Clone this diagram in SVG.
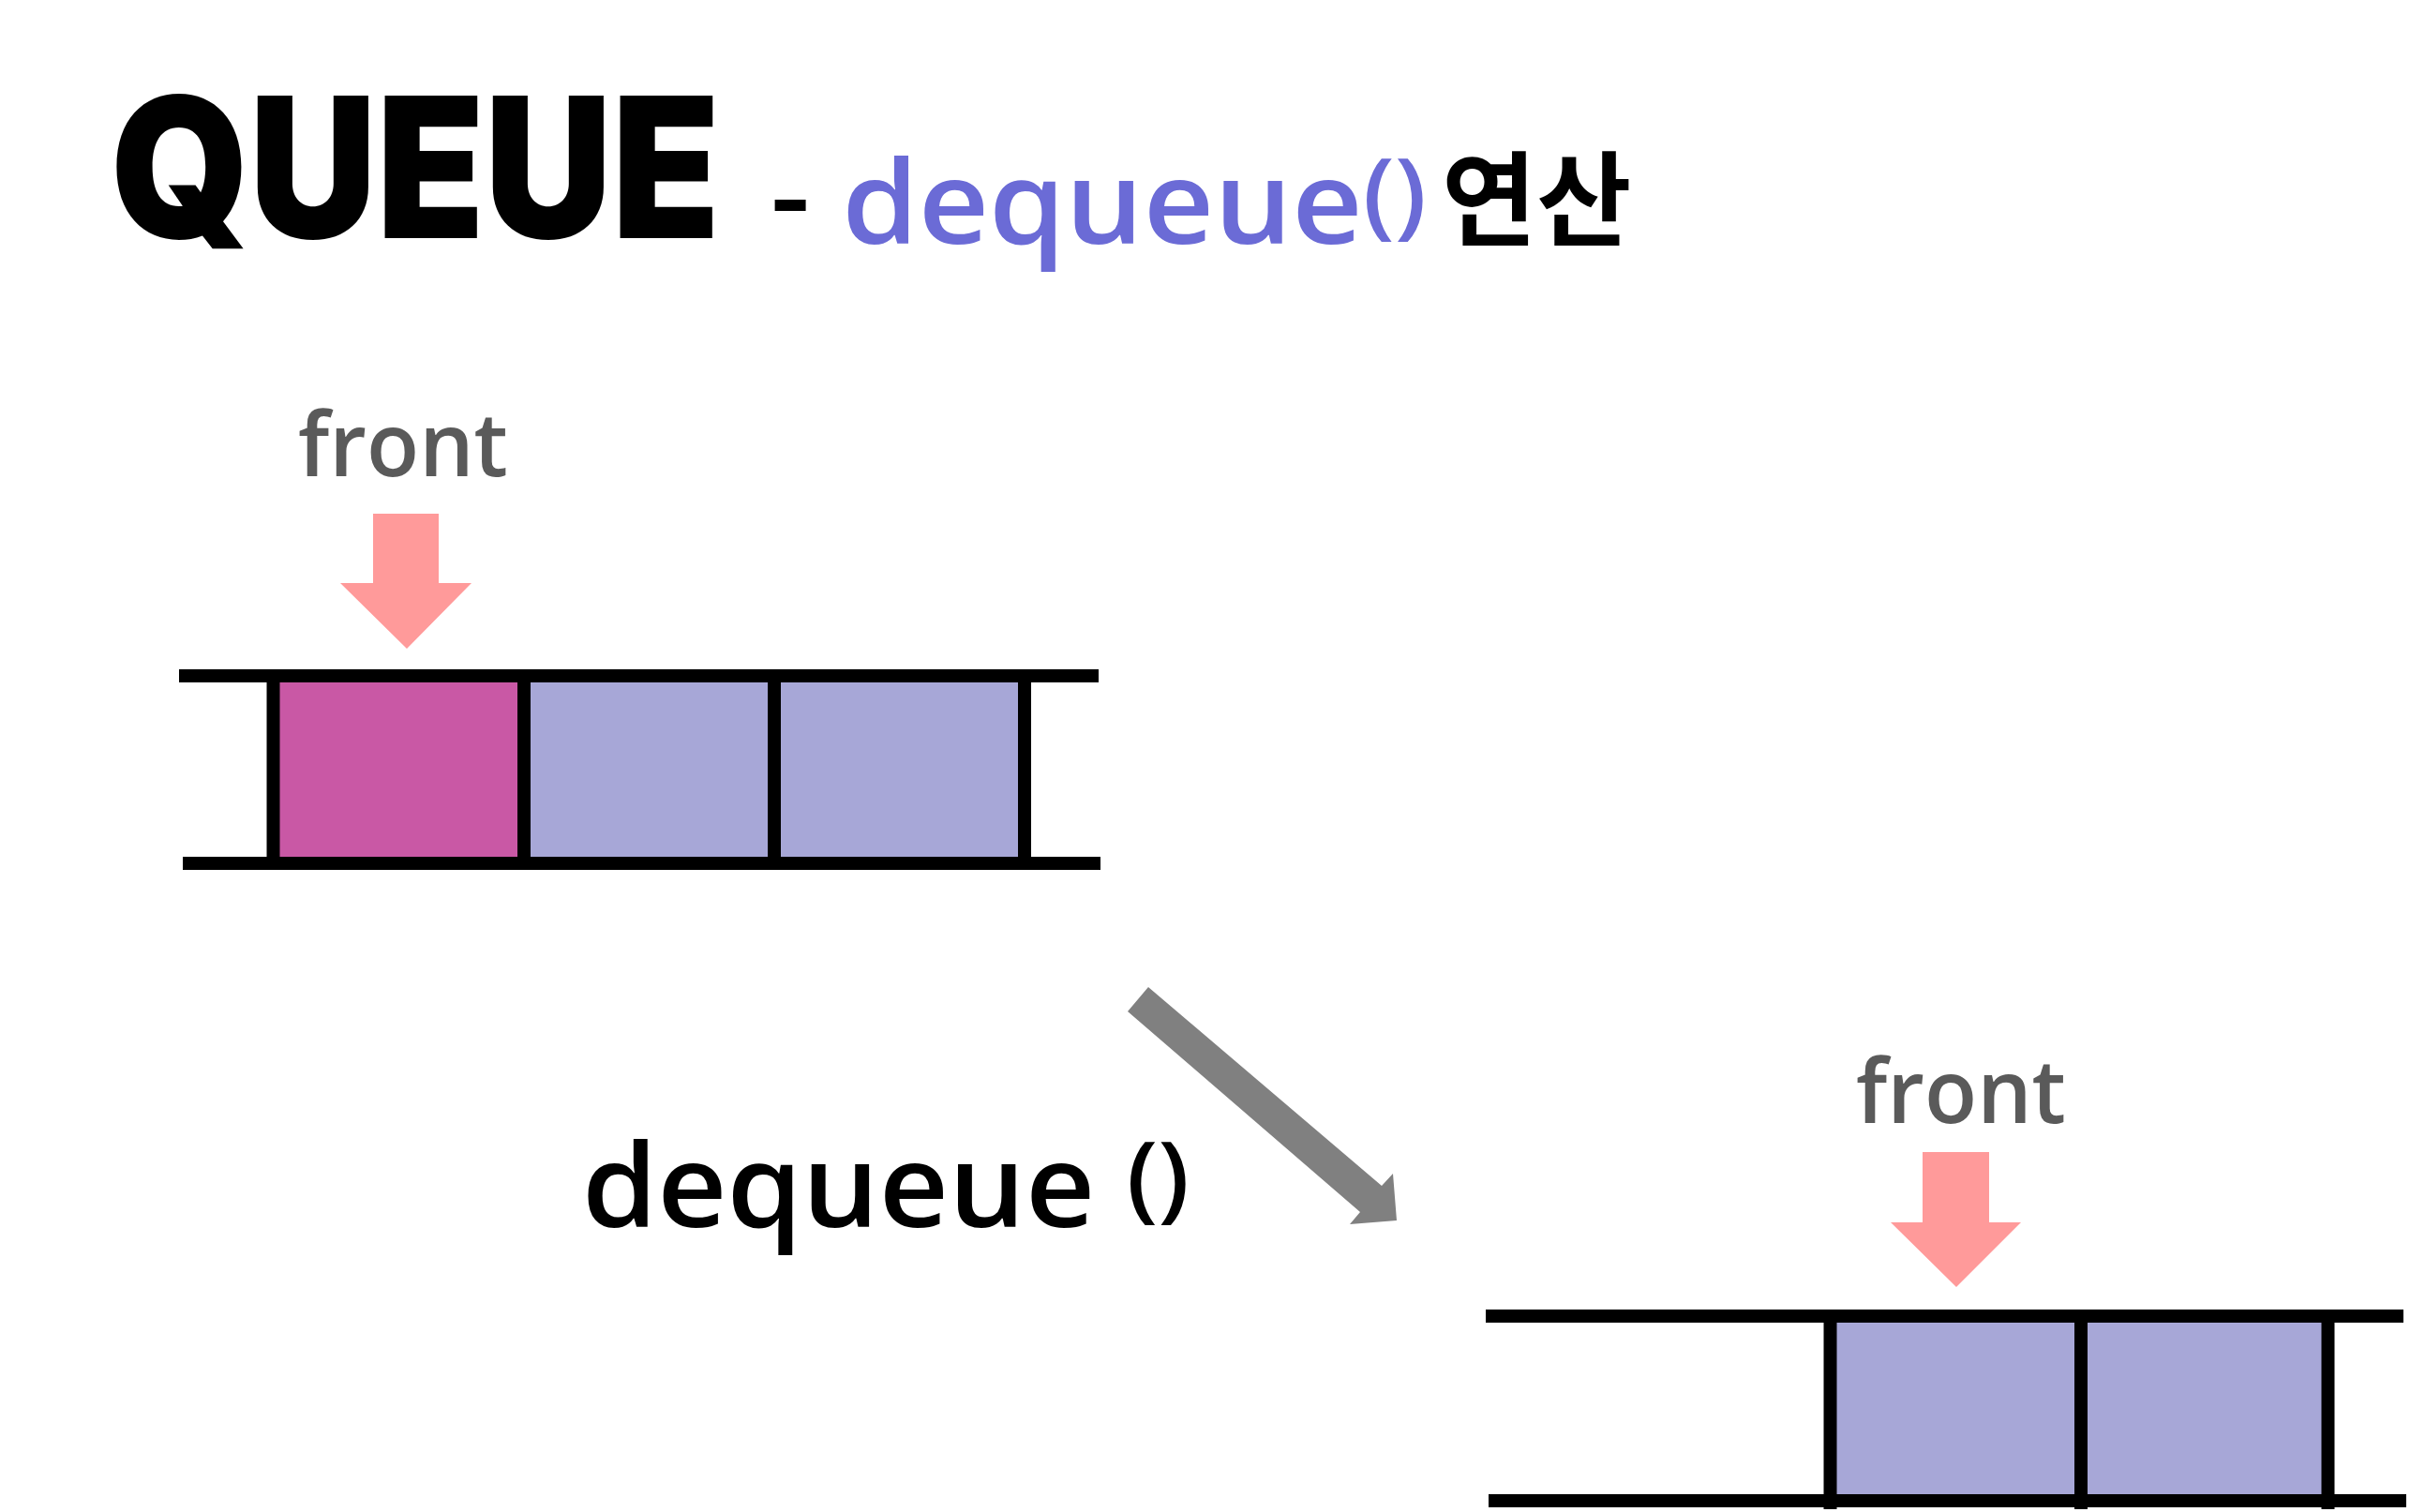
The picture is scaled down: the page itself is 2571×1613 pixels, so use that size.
<svg xmlns="http://www.w3.org/2000/svg" width="2571" height="1613" viewBox="0 0 2571 1613">
  <style>
    .bar { fill: #000000; }
    .pink { fill: #C958A5; }
    .lav { fill: #A7A7D7; }
    .ptr { fill: #FF9A9A; }
    .conn { fill: #808080; }
    .lbl { font-family: "Open Sans", "Liberation Sans", Arial, sans-serif; font-weight: 600; font-size: 94px; fill: #5A5A5A; }
    .code { font-family: "Open Sans", "Liberation Sans", Arial, sans-serif; font-weight: 600; font-size: 124px; }
    .par { font-size: 102px; }
    .ttl { font-family: "Inter", "Liberation Sans", Arial, sans-serif; font-weight: 900; font-size: 182px; fill: #000000; }
    .kr { font-family: "Noto Sans CJK KR", "Noto Sans", sans-serif; font-size: 110px; font-weight: 700; fill: #000000; }
  </style>
  <rect x="0" y="0" width="2571" height="1613" fill="#FFFFFF"/>

  <g id="title">
    <text class="ttl" transform="translate(118,254) scale(1,1.15)" x="0" y="0" textLength="650" lengthAdjust="spacingAndGlyphs">QUEUE</text>
    <text class="code" x="822" y="260" fill="#6B6BD6" textLength="700" lengthAdjust="spacingAndGlyphs"><tspan fill="#000000" dy="-8">-</tspan><tspan dy="8"> dequeue</tspan><tspan class="par" dy="-18">()</tspan></text>
    <text class="kr" x="1538" y="254">연산</text>
  </g>

  <g id="queue-before">
    <rect class="pink" x="291" y="721" width="268" height="200"/>
    <rect class="lav" x="559" y="721" width="267" height="200"/>
    <rect class="lav" x="826" y="721" width="267" height="200"/>
    <rect class="bar" x="191" y="714" width="981" height="14"/>
    <rect class="bar" x="195" y="914" width="979" height="14"/>
    <rect class="bar" x="284.5" y="714" width="14" height="214"/>
    <rect class="bar" x="552" y="714" width="14" height="214"/>
    <rect class="bar" x="819" y="714" width="14" height="214"/>
    <rect class="bar" x="1086" y="714" width="14" height="214"/>
  </g>

  <g id="front-before">
    <text class="lbl" x="318" y="508" textLength="224" lengthAdjust="spacingAndGlyphs">front</text>
  </g>

  <g id="dequeue-label">
    <text class="code" x="621" y="1309" fill="#000000" textLength="648" lengthAdjust="spacingAndGlyphs">dequeue <tspan class="par" dy="-18">()</tspan></text>
  </g>

  <g id="queue-after">
    <rect class="lav" x="1952" y="1404" width="268" height="197"/>
    <rect class="lav" x="2220" y="1404" width="264" height="197"/>
    <rect class="bar" x="1585" y="1397" width="979" height="14"/>
    <rect class="bar" x="1588" y="1594" width="979" height="14"/>
    <rect class="bar" x="1945.5" y="1397" width="14" height="213"/>
    <rect class="bar" x="2213" y="1397" width="14" height="213"/>
    <rect class="bar" x="2476.5" y="1397" width="14" height="213"/>
  </g>

  <g id="front-after">
    <text class="lbl" x="1980" y="1198" textLength="224" lengthAdjust="spacingAndGlyphs">front</text>
  </g>

  <g id="connectors">
    <polygon class="ptr" points="398,548 468,548 468,622 503,622 434,692 363,622 398,622"/>
    <polygon class="ptr" points="2051,1229 2122,1229 2122,1304 2156,1304 2087,1373 2017,1304 2051,1304"/>
    <polygon class="conn" points="1225,1053 1474,1265 1486,1252 1490,1302 1440,1306 1451,1293 1203,1079"/>
  </g>
</svg>
